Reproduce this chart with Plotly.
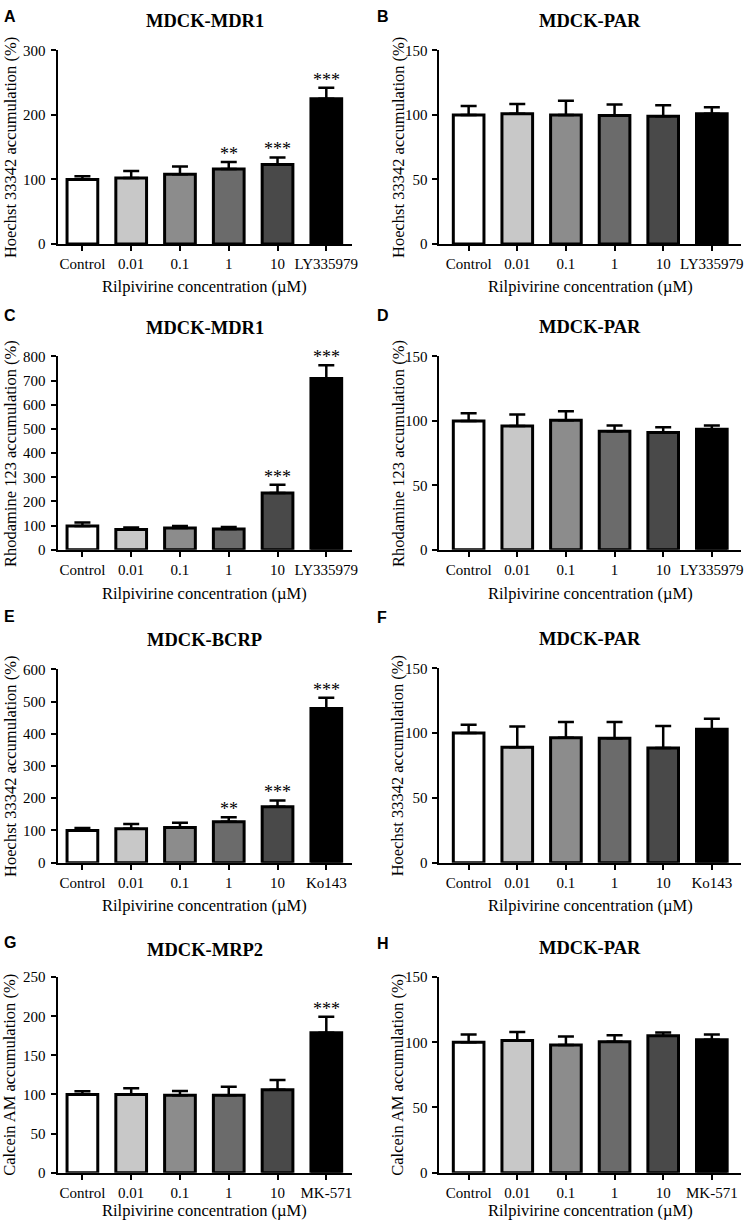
import plotly.graph_objects as go

# ---------------- data ----------------
categories_mdr1 = ["Control", "0.01", "0.1", "1", "10", "LY335979"]
categories_bcrp = ["Control", "0.01", "0.1", "1", "10", "Ko143"]
categories_mrp2 = ["Control", "0.01", "0.1", "1", "10", "MK-571"]

a_values = [100, 102, 108, 116, 123, 225]
a_errors = [5, 11, 12, 11, 11, 17]
a_sig = ["", "", "", "**", "***", "***"]

b_values = [100, 101, 100, 99.5, 99, 101]
b_errors = [7, 7.5, 11, 8.5, 8.5, 5]
b_sig = ["", "", "", "", "", ""]

c_values = [99, 84, 90, 86, 235, 709]
c_errors = [14, 8, 9, 9, 34, 54]
c_sig = ["", "", "", "", "***", "***"]

d_values = [100, 96, 100.5, 92, 91, 93.5]
d_errors = [6, 9, 7, 4.5, 4, 3]
d_sig = ["", "", "", "", "", ""]

e_values = [100, 105, 109, 127, 174, 478]
e_errors = [8, 15, 15, 14, 19, 34]
e_sig = ["", "", "", "**", "***", "***"]

f_values = [100, 89, 96.5, 96, 88.5, 103]
f_errors = [6.5, 16, 12, 12.5, 17, 8]
f_sig = ["", "", "", "", "", ""]

g_values = [100, 100, 99, 99, 106, 179]
g_errors = [4, 8, 5.5, 11, 12.5, 20.5]
g_sig = ["", "", "", "", "", "***"]

h_values = [100, 101.5, 98, 100.5, 105, 102]
h_errors = [6, 6.5, 6.5, 5, 2.5, 4]
h_sig = ["", "", "", "", "", ""]

panel_letters = ["A", "B", "C", "D", "E", "F", "G", "H"]
panel_titles = ["MDCK-MDR1", "MDCK-PAR", "MDCK-MDR1", "MDCK-PAR",
                "MDCK-BCRP", "MDCK-PAR", "MDCK-MRP2", "MDCK-PAR"]
y_titles = ["Hoechst 33342 accumulation (%)", "Hoechst 33342 accumulation (%)",
            "Rhodamine 123 accumulation (%)", "Rhodamine 123 accumulation (%)",
            "Hoechst 33342 accumulation (%)", "Hoechst 33342 accumulation (%)",
            "Calcein AM accumulation (%)", "Calcein AM accumulation (%)"]
x_title = "Rilpivirine concentration (\u00b5M)"
y_max = [300, 150, 800, 150, 600, 150, 250, 150]
y_step = [100, 50, 100, 50, 100, 50, 50, 50]

bar_colors = ["#ffffff", "#c8c8c8", "#8c8c8c", "#6b6b6b", "#494949", "#000000"]

panels = [
    (categories_mdr1, a_values, a_errors, a_sig),
    (categories_mdr1, b_values, b_errors, b_sig),
    (categories_mdr1, c_values, c_errors, c_sig),
    (categories_mdr1, d_values, d_errors, d_sig),
    (categories_bcrp, e_values, e_errors, e_sig),
    (categories_bcrp, f_values, f_errors, f_sig),
    (categories_mrp2, g_values, g_errors, g_sig),
    (categories_mrp2, h_values, h_errors, h_sig),
]

# ---------------- layout geometry (pixels) ----------------
W, H = 750, 1229
# (x0, x1, ytop, ybottom)
boxes = [
    (58, 355, 43, 239), (443, 747, 43, 239),
    (58, 355, 353, 549), (443, 747, 353, 549),
    (58, 355, 670, 866), (443, 747, 669, 866),
    (58, 355, 982, 1180), (443, 747, 982, 1180),
]
title_y = [13, 13, 324, 323, 640, 639, 954, 952]
letter_pos = [(2, 9), (378, 9), (2, 312), (378, 312), (2, 617), (378, 618), (2, 947), (378, 948)]
ytitle_x = [10, 401, 10, 401, 10, 401, 10, 401]
xtitle_dy = [43, 43, 44, 44, 43, 43, 38, 38]
x_ranges = [[-0.51, 5.53], [-0.6, 5.6]]

SERIF = "Liberation Serif, Times New Roman, serif"
SANS = "Liberation Sans, Arial, sans-serif"


def px(x):
    return x / W


def py(y):
    return 1 - y / H


fig = go.Figure()
annotations = []
layout_axes = {}

for i, (cats, vals, errs, sig) in enumerate(panels):
    n = i + 1
    xa = "x" if n == 1 else f"x{n}"
    ya = "y" if n == 1 else f"y{n}"
    x0, x1, yt, yb = boxes[i]
    fig.add_trace(go.Bar(
        x=cats, y=vals, xaxis=xa, yaxis=ya, width=0.63,
        marker=dict(color=bar_colors, line=dict(color="black", width=3)),
        error_y=dict(type="data", symmetric=False, array=errs,
                     arrayminus=[0] * len(errs), color="black",
                     thickness=2.5, width=8),
        showlegend=False,
    ))
    xkey = "xaxis" if n == 1 else f"xaxis{n}"
    ykey = "yaxis" if n == 1 else f"yaxis{n}"
    layout_axes[xkey] = dict(
        domain=[px(x0), px(x1)], anchor=ya, type="category",
        range=x_ranges[i % 2], showline=True, linecolor="black", linewidth=2,
        ticks="outside", ticklen=5, tickwidth=2, tickcolor="black",
        showgrid=False, zeroline=False, fixedrange=True,
        tickfont=dict(family=SERIF, size=15, color="black"),
    )
    layout_axes[ykey] = dict(
        domain=[py(yb), py(yt)], anchor=xa, range=[0, y_max[i]],
        tick0=0, dtick=y_step[i], showline=True, linecolor="black",
        linewidth=2, ticks="outside", ticklen=5, tickwidth=2,
        tickcolor="black", showgrid=False, zeroline=False,
        ticklabelstandoff=2, fixedrange=True,
        tickfont=dict(family=SERIF, size=15, color="black"),
    )
    # significance stars (x given as category index)
    for j, (v, e, s) in enumerate(zip(vals, errs, sig)):
        if s:
            annotations.append(dict(
                x=j, y=v + e, xref=xa, yref=ya, text=s, showarrow=False,
                yanchor="bottom", yshift=-4,
                font=dict(family=SERIF, size=18, color="black"),
            ))
    # panel title
    annotations.append(dict(
        x=px((x0 + x1) / 2), y=py(title_y[i]), xref="paper", yref="paper",
        text=f"<b>{panel_titles[i]}</b>", showarrow=False,
        xanchor="center", yanchor="middle",
        font=dict(family=SERIF, size=18.5, color="black"),
    ))
    # panel letter
    lx, ly = letter_pos[i]
    annotations.append(dict(
        x=px(lx), y=py(ly), xref="paper", yref="paper",
        text=f"<b>{panel_letters[i]}</b>", showarrow=False,
        xanchor="left", yanchor="middle",
        font=dict(family=SANS, size=16, color="black"),
    ))
    # y-axis title
    annotations.append(dict(
        x=px(ytitle_x[i]), y=py((yt + yb) / 2), xref="paper", yref="paper",
        text=y_titles[i], showarrow=False, textangle=-90,
        xanchor="center", yanchor="middle",
        font=dict(family=SERIF, size=16.5, color="black"),
    ))
    # x-axis title
    annotations.append(dict(
        x=px((x0 + x1) / 2), y=py(yb + xtitle_dy[i]), xref="paper", yref="paper",
        text=x_title, showarrow=False, xanchor="center", yanchor="middle",
        font=dict(family=SERIF, size=16.5, color="black"),
    ))

fig.update_layout(
    width=W, height=H, margin=dict(l=0, r=0, t=0, b=0),
    paper_bgcolor="white", plot_bgcolor="white",
    annotations=annotations, bargap=0.3, hovermode=False, **layout_axes,
)

fig.write_html(
    "out.html",
    config={"displayModeBar": False},
    post_script="document.body.style.margin='0';document.body.style.overflow='hidden';",
)
